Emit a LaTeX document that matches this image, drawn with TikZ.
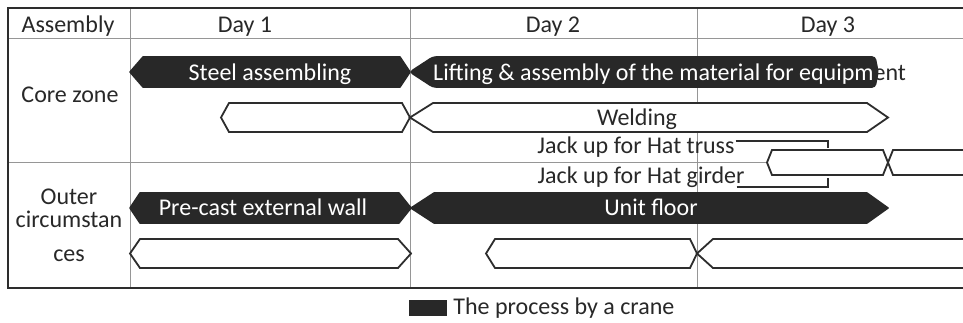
\documentclass[tikz,border=0pt]{standalone}
\usepackage{fontspec}
\setmainfont{Carlito}
\usetikzlibrary{positioning,calc}
\definecolor{gridgray}{RGB}{150,150,150}
\definecolor{frameink}{RGB}{45,45,45}
\definecolor{cranefill}{RGB}{40,40,40}
\definecolor{textink}{RGB}{40,40,40}

% style, left x, left tip, right x, right tip, mid y, half height
\newcommand{\taskbar}[7]{%
  \draw[#1] (#2,#6) -- ++(#3,-#7) -- (#4-#5,#6-#7) -- (#4,#6)
    -- (#4-#5,#6+#7) -- (#2+#3,#6+#7) -- cycle;}

\begin{document}
\begin{tikzpicture}[
  x=1pt, y=-1pt,
  font=\fontsize{24}{23}\selectfont, text=textink,
  gridln/.style={draw=gridgray, line width=0.9pt},
  tableframe/.style={draw=frameink, line width=2.6pt},
  cranebar/.style={draw=cranefill, fill=cranefill, line width=1.6pt, line join=round},
  workbar/.style={draw=frameink, fill=white, line width=1.8pt},
  lbl/.style={anchor=base, inner sep=0pt},
  wlbl/.style={lbl, text=white},
  bracket/.style={draw=frameink, line width=1.1pt}
]
\useasboundingbox (0,0) rectangle (963,322);
\clip (0,0) rectangle (963,322);

% ---- table
\draw[gridln] (8,38) -- (975,38);
\draw[gridln] (8,162) -- (975,162);
\foreach \x in {130,410,697} \draw[gridln] (\x,8) -- (\x,288);
\draw[tableframe] (975,8) -- (8,8) -- (8,288) -- (975,288);

\node[lbl] (assembly) at (68,32) {Assembly};
\node[lbl] (day1) at (245,32) {Day 1};
\node[lbl] (day2) at (553,32) {Day 2};
\node[lbl] (day3) at (828,32) {Day 3};
\node[lbl] (core) at (70,102) {Core zone};
\node[align=center, inner sep=0pt] (outer) at (69,225)
  {Outer\\circumstan\\[11pt]ces};

% ---- core zone
\taskbar{cranebar}{130}{13}{410}{10}{72}{15}
\taskbar{cranebar, rounded corners=3pt}{410}{23}{878}{3}{72}{15}
\taskbar{workbar}{221}{8}{410}{8}{117.5}{14.5}
\taskbar{workbar}{410}{23}{888}{21}{117.5}{14.5}
\taskbar{workbar}{767}{5}{888}{5}{162.5}{12.5}
\taskbar{workbar}{888}{5}{1000}{5}{162.5}{12.5}

\node[wlbl] (steel) at (270,80) {Steel assembling};
\node[lbl, anchor=base west] (lifting) at (433,80)
  {\textcolor{white}{Lifting \& assembly of the material for equipm}ent};
\node[lbl] (welding) at (637,125) {Welding};
\node[lbl] (truss) at (636,153) {Jack up for Hat truss};
\node[lbl] (girder) at (641,183) {Jack up for Hat girder};

\coordinate (jacktop) at (828,148);
\coordinate (jackbot) at (828,178);
\draw[bracket] (truss.base east) ++(1,-12) -| (jacktop);
\draw[bracket] (girder.base east) ++(-8,4) -| (jackbot);

% ---- outer circumstances
\taskbar{cranebar}{130}{10}{411}{12}{208}{15}
\taskbar{cranebar}{411}{23}{888}{21}{208}{15}
\taskbar{workbar}{130}{10}{411}{13}{253.5}{14.5}
\taskbar{workbar}{486}{9}{697}{7}{253.5}{14.5}
\taskbar{workbar}{697}{16}{1000}{10}{253.5}{14.5}

\node[wlbl] (precast) at (263,215) {Pre-cast external wall};
\node[wlbl] (unitfloor) at (651,215) {Unit floor};

% ---- legend
\node[fill=cranefill, minimum width=38, minimum height=16, inner sep=0pt]
  (cranekey) at (428,308) {};
\node[right=6pt of cranekey, inner sep=0pt] (legend) {The process by a crane};
\end{tikzpicture}
\end{document}
